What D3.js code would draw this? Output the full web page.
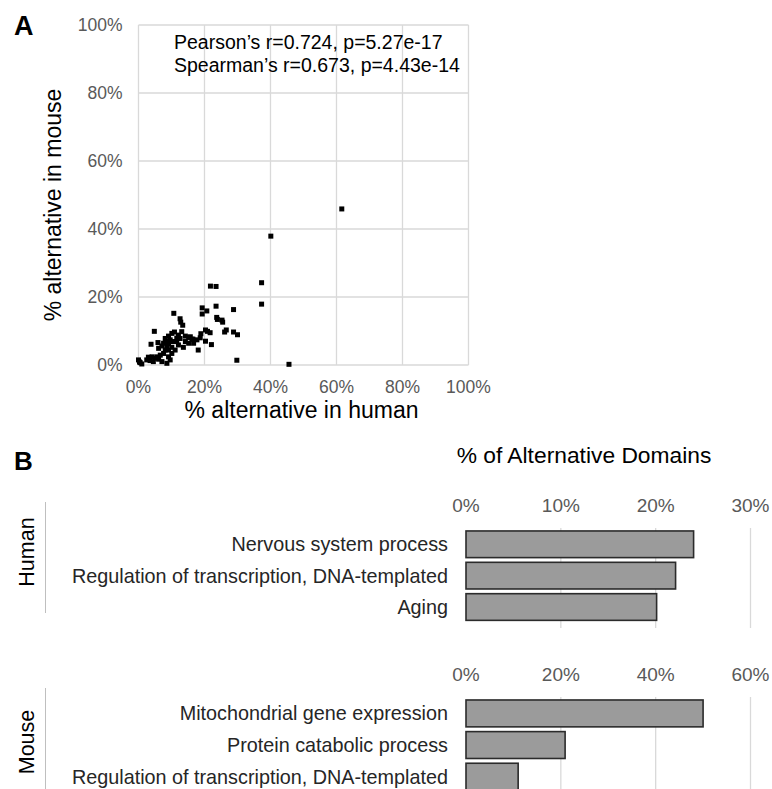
<!DOCTYPE html>
<html lang="en">

<head>
    <meta charset="UTF-8">
    <title>Alternative domains</title>
    <style>
        * {
            margin: 0;
            padding: 0;
        }

        html,
        body {
            overflow: hidden;
            background: #fff;
        }

        text {
            font-family: "Liberation Sans", Arial, sans-serif;
        }
    </style>
</head>

<body>
    <div id="chart"></div>
    <script src="https://cdn.jsdelivr.net/npm/d3@7"></script>
    <script>
        // panel A: % alternative in human vs mouse (fractions)
        const humanPct = [0.616, 0.401, 0.373, 0.373, 0.218, 0.235, 0.456, 0.298, 0.288, 0.288,
            0.300, 0.235, 0.237, 0.239, 0.253, 0.255, 0.266, 0.261, 0.193, 0.193,
            0.207, 0.203, 0.209, 0.217, 0.189, 0.203, 0.221, 0.187, 0.181, 0.107,
            0.126, 0.128, 0.134, 0.048, 0.038, 0.059, 0.081, 0.091, 0.101, 0.109,
            0.076, 0.086, 0.096, 0.131, 0.142, 0.152, 0.162, 0.177, 0.167, 0.121,
            0.111, 0.101, 0.091, 0.096, 0.086, 0.071, 0.030, 0.041, 0.051, 0.061,
            0.025, 0.035, 0.045, 0.000, 0.005, 0.010, 0.076, 0.066, 0.056, 0.116,
            0.106, 0.086, 0.091, 0.081, 0.142, 0.152, 0.126, 0.157, 0.165, 0.003,
            0.116, 0.091, 0.071, 0.061, 0.101, 0.136, 0.121]
        const mousePct = [0.459, 0.379, 0.242, 0.179, 0.232, 0.231, 0.002, 0.014, 0.163, 0.097,
            0.089, 0.173, 0.140, 0.134, 0.132, 0.126, 0.103, 0.097, 0.168, 0.150,
            0.159, 0.103, 0.099, 0.095, 0.092, 0.070, 0.060, 0.080, 0.044, 0.152,
            0.136, 0.126, 0.117, 0.099, 0.061, 0.066, 0.078, 0.085, 0.093, 0.097,
            0.064, 0.069, 0.074, 0.098, 0.085, 0.081, 0.076, 0.074, 0.064, 0.059,
            0.044, 0.034, 0.024, 0.015, 0.005, 0.010, 0.023, 0.024, 0.020, 0.017,
            0.015, 0.013, 0.010, 0.015, 0.007, 0.003, 0.034, 0.029, 0.024, 0.069,
            0.069, 0.054, 0.044, 0.044, 0.069, 0.064, 0.078, 0.083, 0.076, 0.009,
            0.079, 0.062, 0.056, 0.049, 0.052, 0.052, 0.088]
        const scatterTicks = [0, 0.2, 0.4, 0.6, 0.8, 1]
        const statLines = ['Pearson\u2019s r=0.724, p=5.27e-17', 'Spearman\u2019s r=0.673, p=4.43e-14']

        // panel B: % of alternative domains
        const humanTerms = ['Nervous system process', 'Regulation of transcription, DNA-templated', 'Aging']
        const humanValues = [0.240, 0.221, 0.201]
        const humanTicks = [0, 0.1, 0.2, 0.3]
        const mouseTerms = ['Mitochondrial gene expression', 'Protein catabolic process', 'Regulation of transcription, DNA-templated']
        const mouseValues = [0.500, 0.209, 0.110]
        const mouseTicks = [0, 0.2, 0.4, 0.6]

        const width = 772
        const height = 789
        const gridColor = '#d9d9d9'
        const tickColor = '#595959'
        const pct = d3.format('.0%')

        const svg = d3.select('#chart')
            .append('svg')
            .attr('width', width)
            .attr('height', height)

        // ---------- A: scatter ----------
        const x = d3.scaleLinear().domain([0, 1]).range([138.5, 468.5])
        const y = d3.scaleLinear().domain([0, 1]).range([365, 25])

        const gA = svg.append('g')

        gA.append('g')
            .selectAll('line')
            .data(scatterTicks)
            .join('line')
            .attr('x1', d => x(d))
            .attr('x2', d => x(d))
            .attr('y1', y(0))
            .attr('y2', y(1))
            .attr('stroke', gridColor)
            .attr('stroke-width', 1.3)

        gA.append('g')
            .selectAll('line')
            .data(scatterTicks)
            .join('line')
            .attr('x1', x(0))
            .attr('x2', x(1))
            .attr('y1', d => y(d))
            .attr('y2', d => y(d))
            .attr('stroke', gridColor)
            .attr('stroke-width', 1.3)

        gA.append('g')
            .selectAll('text')
            .data(scatterTicks)
            .join('text')
            .attr('x', d => x(d))
            .attr('y', y(0) + 28)
            .attr('text-anchor', 'middle')
            .attr('font-size', 17.5)
            .attr('fill', tickColor)
            .text(d => pct(d))

        gA.append('g')
            .selectAll('text')
            .data(scatterTicks)
            .join('text')
            .attr('x', x(0) - 16)
            .attr('y', d => y(d) + 6)
            .attr('text-anchor', 'end')
            .attr('font-size', 17.5)
            .attr('fill', tickColor)
            .text(d => pct(d))

        const points = humanPct.map((h, i) => ({ h, m: mousePct[i] }))
        const sq = 5
        gA.append('g')
            .selectAll('rect')
            .data(points)
            .join('rect')
            .attr('x', d => x(d.h) - sq / 2)
            .attr('y', d => y(d.m) - sq / 2)
            .attr('width', sq)
            .attr('height', sq)
            .attr('fill', '#000')

        gA.append('g')
            .selectAll('text')
            .data(statLines)
            .join('text')
            .attr('x', 174)
            .attr('y', (d, i) => 49 + i * 22.5)
            .attr('font-size', 19.5)
            .attr('fill', '#000')
            .text(d => d)

        gA.append('text')
            .attr('x', (x(0) + x(1)) / 2 - 2)
            .attr('y', 418)
            .attr('text-anchor', 'middle')
            .attr('font-size', 23)
            .text('% alternative in human')

        gA.append('text')
            .attr('transform', `translate(61, ${(y(0) + y(1)) / 2 + 10}) rotate(-90)`)
            .attr('text-anchor', 'middle')
            .attr('font-size', 23)
            .text('% alternative in mouse')

        gA.append('text')
            .attr('x', 14)
            .attr('y', 35)
            .attr('font-size', 27)
            .attr('font-weight', 'bold')
            .text('A')

        // ---------- B: bars ----------
        svg.append('text')
            .attr('x', 14)
            .attr('y', 470)
            .attr('font-size', 26)
            .attr('font-weight', 'bold')
            .text('B')

        svg.append('text')
            .attr('x', 584)
            .attr('y', 463)
            .attr('text-anchor', 'middle')
            .attr('font-size', 22.8)
            .text('% of Alternative Domains')

        function drawBars(terms, values, ticks, maxVal, band, tickY, gridTop, gridBottom, side, sideY, lineTop, lineBottom) {
            const g = svg.append('g')
            const bx = d3.scaleLinear().domain([0, maxVal]).range([466, 750.5])
            const by = d3.scaleBand().domain(terms).range(band).paddingInner(0.15).paddingOuter(0.075)

            g.append('g')
                .selectAll('line')
                .data(ticks.slice(1))
                .join('line')
                .attr('x1', d => bx(d))
                .attr('x2', d => bx(d))
                .attr('y1', gridTop)
                .attr('y2', gridBottom)
                .attr('stroke', gridColor)
                .attr('stroke-width', 1.3)

            g.append('g')
                .selectAll('text')
                .data(ticks)
                .join('text')
                .attr('x', d => bx(d))
                .attr('y', tickY)
                .attr('text-anchor', 'middle')
                .attr('font-size', 19)
                .attr('fill', tickColor)
                .text(d => pct(d))

            g.append('g')
                .selectAll('rect')
                .data(terms)
                .join('rect')
                .attr('x', bx(0))
                .attr('y', d => by(d))
                .attr('width', (d, i) => bx(values[i]) - bx(0))
                .attr('height', by.bandwidth())
                .attr('fill', '#9b9b9b')
                .attr('stroke', '#2b2b2b')
                .attr('stroke-width', 1.6)

            g.append('g')
                .selectAll('text')
                .data(terms)
                .join('text')
                .attr('x', 448)
                .attr('y', d => by(d) + by.bandwidth() / 2 + 7)
                .attr('text-anchor', 'end')
                .attr('font-size', 19.8)
                .attr('fill', '#262626')
                .text(d => d)

            g.append('line')
                .attr('x1', 45.5)
                .attr('x2', 45.5)
                .attr('y1', lineTop)
                .attr('y2', lineBottom)
                .attr('stroke', '#bfbfbf')
                .attr('stroke-width', 1)

            g.append('text')
                .attr('transform', `translate(34, ${sideY}) rotate(-90)`)
                .attr('text-anchor', 'middle')
                .attr('font-size', 21.5)
                .text(side)
        }

        drawBars(humanTerms, humanValues, humanTicks, 0.3, [528.6, 622.7], 512, 528, 628,
            'Human', 552, 502, 613)
        drawBars(mouseTerms, mouseValues, mouseTicks, 0.6, [697.6, 792.5], 681, 697, 795,
            'Mouse', 742, 688, 789)
    </script>
</body>

</html>
